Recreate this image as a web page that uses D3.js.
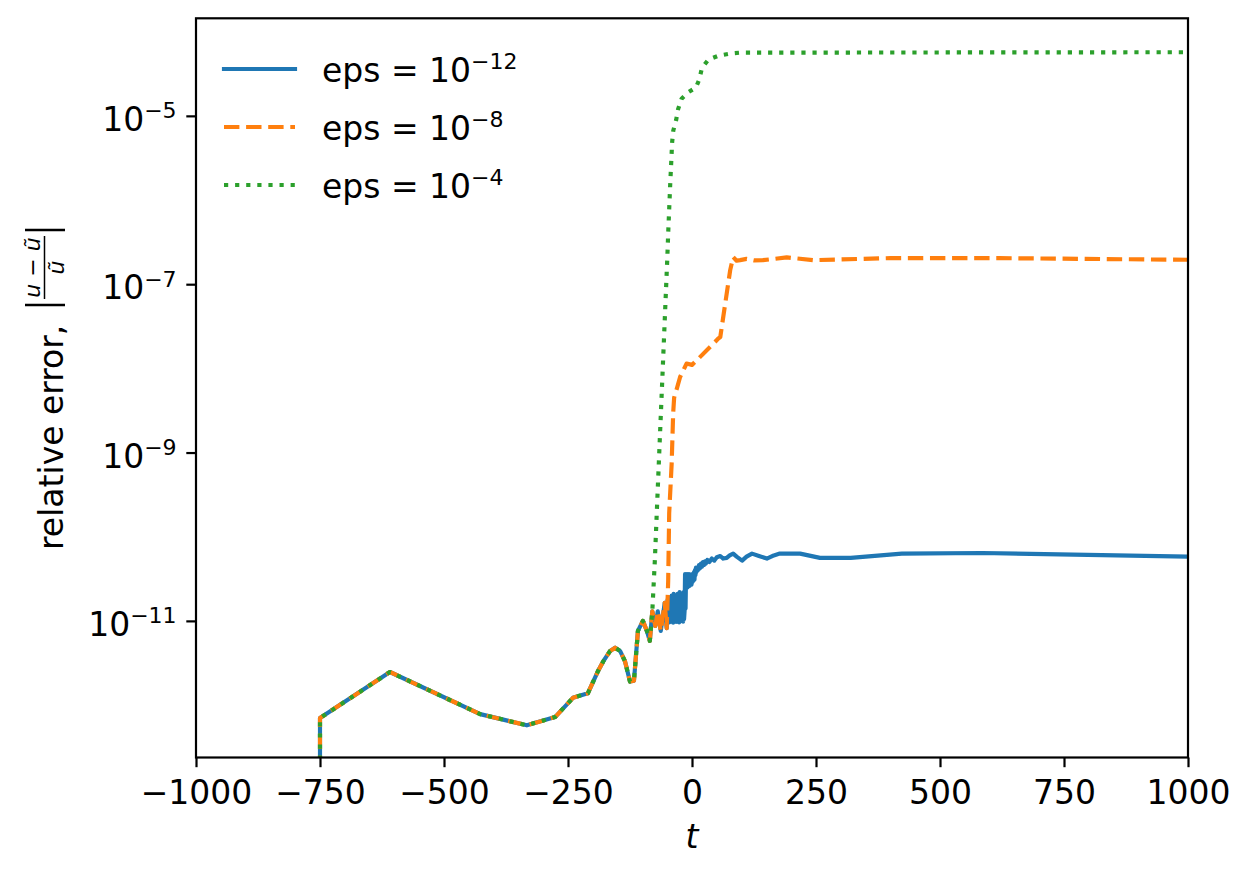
<!DOCTYPE html>
<html lang="en">
<head>
<meta charset="utf-8">
<title>Relative error</title>
<script src="https://d3js.org/d3.v7.min.js"></script>
<style>
  body { margin: 0; background: #fff; }
  text { font-family: "DejaVu Sans", sans-serif; fill: #000; }
</style>
</head>
<body>
<script>
  // all three runs agree up to t ~ -80
  const tShared   = [-750, -750, -609, -427, -333, -276, -240, -210, -190, -179, -165, -155, -145, -135, -125, -117, -109, -99, -91, -85, -80];
  const errShared = [0, 7.0e-13, 2.47e-12, 7.8e-13, 5.75e-13, 7.2e-13, 1.22e-12, 1.38e-12, 2.5e-12, 3.3e-12, 4.4e-12, 4.8e-12, 4.4e-12, 3.3e-12, 1.9e-12, 1.95e-12, 7.6e-12, 1.0e-11, 7.6e-12, 5.8e-12, 1.3e-11];

  // eps 1e-12 and 1e-8 still agree a bit longer
  const tSmallEps   = [-74, -69, -63, -55, -51];
  const errSmallEps = [8.7e-12, 1.3e-11, 7.6e-12, 1.64e-11, 8.2e-12];

  // eps 1e-12: noisy band just before t = 0
  const tBlueNoise = [-50, -49, -48, -47, -46, -45, -44, -43, -42, -41, -40, -39, -38, -37, -36, -35, -34, -33, -32, -31, -30, -29, -28, -27, -26, -25, -24, -23, -22, -21, -20, -19, -18, -17, -16, -15];
  const errBlueNoise = [1.2e-11, 1.8e-11, 1.0e-11, 1.6e-11, 9.6e-12, 1.9e-11, 1.05e-11, 1.7e-11, 9.8e-12, 2.0e-11, 1.1e-11, 1.8e-11, 9.5e-12, 2.1e-11, 1.0e-11, 1.7e-11, 1.05e-11, 2.0e-11, 9.7e-12, 1.9e-11, 1.1e-11, 2.1e-11, 1.0e-11, 1.8e-11, 9.6e-12, 2.2e-11, 1.05e-11, 1.9e-11, 1.0e-11, 2.1e-11, 1.1e-11, 2.0e-11, 9.8e-12, 2.2e-11, 1.05e-11, 1.3e-11];

  const tBlue = [-14, -13, -12, -11, -10, -9, -8, -7, -6, -5, -4, -3, -2, -1, 0, 1, 2, 3, 4, 5, 6, 7, 8, 9, 10, 12, 14, 16, 18, 20, 22, 24, 26, 28, 31, 35, 40, 45, 50, 57, 63, 70, 76, 83, 90, 101, 110, 121, 135, 151, 165, 177, 218, 258, 320, 423, 585, 1000];
  const errBlue = [3.6e-11, 1.4e-11, 3.5e-11, 2.6e-11, 3.6e-11, 2.5e-11, 3.4e-11, 2.7e-11, 3.6e-11, 2.6e-11, 3.5e-11, 2.8e-11, 3.4e-11, 2.7e-11, 3.6e-11, 2.9e-11, 3.5e-11, 3.0e-11, 3.8e-11, 3.1e-11, 4.0e-11, 3.5e-11, 4.3e-11, 3.8e-11, 4.3e-11, 4.0e-11, 4.6e-11, 4.2e-11, 4.8e-11, 4.4e-11, 5.0e-11, 4.6e-11, 5.1e-11, 4.8e-11, 5.3e-11, 5.0e-11, 5.5e-11, 5.2e-11, 5.7e-11, 5.9e-11, 5.5e-11, 5.6e-11, 6.0e-11, 6.3e-11, 5.8e-11, 5.2e-11, 5.8e-11, 6.3e-11, 5.9e-11, 5.5e-11, 6.0e-11, 6.3e-11, 6.3e-11, 5.6e-11, 5.6e-11, 6.3e-11, 6.4e-11, 5.8e-11];

  const tOrange = [-48, -46, -41, -38, -36, -30, -24, -11, 0, 16, 53, 57, 67, 77, 83, 90, 97, 110, 125, 143, 191, 244, 400, 620, 1000];
  const errOrange = [3.0e-11, 1.9e-10, 7.4e-10, 2.9e-9, 4.5e-9, 5.9e-9, 7.9e-9, 1.14e-8, 1.1e-8, 1.36e-8, 2.26e-8, 2.35e-8, 5.9e-8, 1.47e-7, 2.1e-7, 1.9e-7, 1.93e-7, 2.0e-7, 1.92e-7, 1.93e-7, 2.08e-7, 1.93e-7, 2.04e-7, 2.04e-7, 1.95e-7];

  const tGreen = [-75, -70, -65, -60, -55, -50, -47.8, -44, -40, -37.7, -32, -28, -21, -8, 8, 15, 20, 33, 54, 77, 99, 300, 1000];
  const errGreen = [5.1e-11, 2.7e-10, 1.4e-9, 7.1e-9, 3.7e-8, 1.9e-7, 4.3e-7, 1.5e-6, 4.9e-6, 6.7e-6, 8.9e-6, 1.2e-5, 1.6e-5, 1.9e-5, 2.17e-5, 2.74e-5, 3.7e-5, 4.65e-5, 5.2e-5, 5.5e-5, 5.65e-5, 5.65e-5, 5.7e-5];

  const legendLabels = ["\u221212", "\u22128", "\u22124"];
  const colors = ["#1f77b4", "#ff7f0e", "#2ca02c"];
  const dashes = [null, "15.4,6.7", "4.2,6.9"];

  const xTicks = [-1000, -750, -500, -250, 0, 250, 500, 750, 1000];
  const yTickExp = [-5, -7, -9, -11];

  const zip = (ts, vs) => ts.map((t, i) => [t, vs[i]]);
  const series = [
    zip(tShared.concat(tSmallEps, tBlueNoise, tBlue), errShared.concat(errSmallEps, errBlueNoise, errBlue)),
    zip(tShared.concat(tSmallEps, tOrange), errShared.concat(errSmallEps, errOrange)),
    zip(tShared.concat(tGreen), errShared.concat(errGreen))
  ];

  const W = 1250, H = 875;
  const pLeft = 196, pRight = 1188, pTop = 18.3, pBottom = 757.5;
  const fs = 33, supFs = 22, fracFs = 22;

  const svg = d3.select("body").append("svg").attr("width", W).attr("height", H);

  const x = d3.scaleLinear().domain([-1000, 1000]).range([pLeft, pRight]);
  const y = d3.scaleLog().domain([Math.pow(10, -12.623), Math.pow(10, -3.841)]).range([pBottom, pTop]);
  const yv = v => v > 0 ? y(v) : pBottom + 80;

  svg.append("clipPath").attr("id", "plot")
    .append("rect").attr("x", pLeft).attr("y", pTop).attr("width", pRight - pLeft).attr("height", pBottom - pTop);

  const line = d3.line().x(d => x(d[0])).y(d => yv(d[1]));

  svg.append("g").attr("clip-path", "url(#plot)")
    .selectAll("path").data(series).join("path")
    .attr("d", line)
    .attr("fill", "none")
    .attr("stroke", (d, i) => colors[i])
    .attr("stroke-width", 4.17)
    .attr("stroke-linejoin", "round")
    .attr("stroke-linecap", (d, i) => i == 0 ? "square" : "butt")
    .attr("stroke-dasharray", (d, i) => dashes[i]);

  // x axis
  const gx = svg.append("g").attr("transform", `translate(0,${pBottom})`)
    .call(d3.axisBottom(x).tickValues(xTicks).tickSize(9.7).tickPadding(9.7)
      .tickFormat(d => d < 0 ? "\u2212" + Math.abs(d) : String(d)));
  gx.select(".domain").remove();
  gx.selectAll(".tick line").attr("stroke", "#000").attr("stroke-width", 2.2);
  gx.selectAll(".tick text").attr("font-size", fs).attr("font-family", "DejaVu Sans")
    .attr("dy", null).attr("y", 46.5);

  // y axis
  const gy = svg.append("g").attr("transform", `translate(${pLeft},0)`)
    .call(d3.axisLeft(y).tickValues(yTickExp.map(e => Math.pow(10, e))).tickSize(9.7).tickFormat(() => ""));
  gy.select(".domain").remove();
  gy.selectAll(".tick line").attr("stroke", "#000").attr("stroke-width", 2.2);
  gy.selectAll(".tick text").remove();
  gy.selectAll(".tick").each(function (d, i) {
    const t = d3.select(this).append("text")
      .attr("x", -19.4).attr("y", 14.5)
      .attr("text-anchor", "end").attr("font-size", fs);
    t.append("tspan").text("10");
    t.append("tspan").attr("dy", -12.5).attr("font-size", supFs).text("\u2212" + Math.abs(yTickExp[i]));
  });

  // frame
  svg.append("rect").attr("x", pLeft).attr("y", pTop)
    .attr("width", pRight - pLeft).attr("height", pBottom - pTop)
    .attr("fill", "none").attr("stroke", "#000").attr("stroke-width", 2.2);

  // x label
  svg.append("text").attr("x", (pLeft + pRight) / 2).attr("y", 848)
    .attr("text-anchor", "middle").attr("font-size", fs).attr("font-style", "italic").text("t");

  // y label, with fraction
  const yl = svg.append("g").attr("transform", "translate(63,389) rotate(-90)");
  yl.append("text").attr("x", -161).attr("y", 0).attr("font-size", fs).text("relative error,");
  const barL = 84, barR = 159;
  [barL, barR].forEach(b => yl.append("line")
    .attr("x1", b).attr("x2", b).attr("y1", -38).attr("y2", 2)
    .attr("stroke", "#000").attr("stroke-width", 2.4));
  yl.append("line").attr("x1", 90).attr("x2", 153).attr("y1", -18.5).attr("y2", -18.5)
    .attr("stroke", "#000").attr("stroke-width", 1.5);
  const num = yl.append("text").attr("x", 121.5).attr("y", -23.5).attr("text-anchor", "middle")
    .attr("font-size", fracFs);
  num.append("tspan").attr("font-style", "italic").text("u");
  num.append("tspan").text(" \u2212 ");
  num.append("tspan").attr("font-style", "italic").text("\u0169");
  yl.append("text").attr("x", 121.5).attr("y", 0.5).attr("text-anchor", "middle")
    .attr("font-size", fracFs).attr("font-style", "italic").text("\u0169");

  // legend
  const lg = svg.append("g");
  legendLabels.forEach((lab, i) => {
    const yy = 69 + i * 58;
    lg.append("line").attr("x1", 224).attr("x2", 295).attr("y1", yy).attr("y2", yy)
      .attr("stroke", colors[i]).attr("stroke-width", 4.17)
      .attr("stroke-dasharray", dashes[i])
      .attr("stroke-linecap", i == 0 ? "square" : "butt");
    const t = lg.append("text").attr("x", 322).attr("y", yy + 12.5).attr("font-size", fs);
    t.append("tspan").text("eps = 10");
    t.append("tspan").attr("dy", -12.5).attr("font-size", supFs).text(lab);
  });
</script>
</body>
</html>
